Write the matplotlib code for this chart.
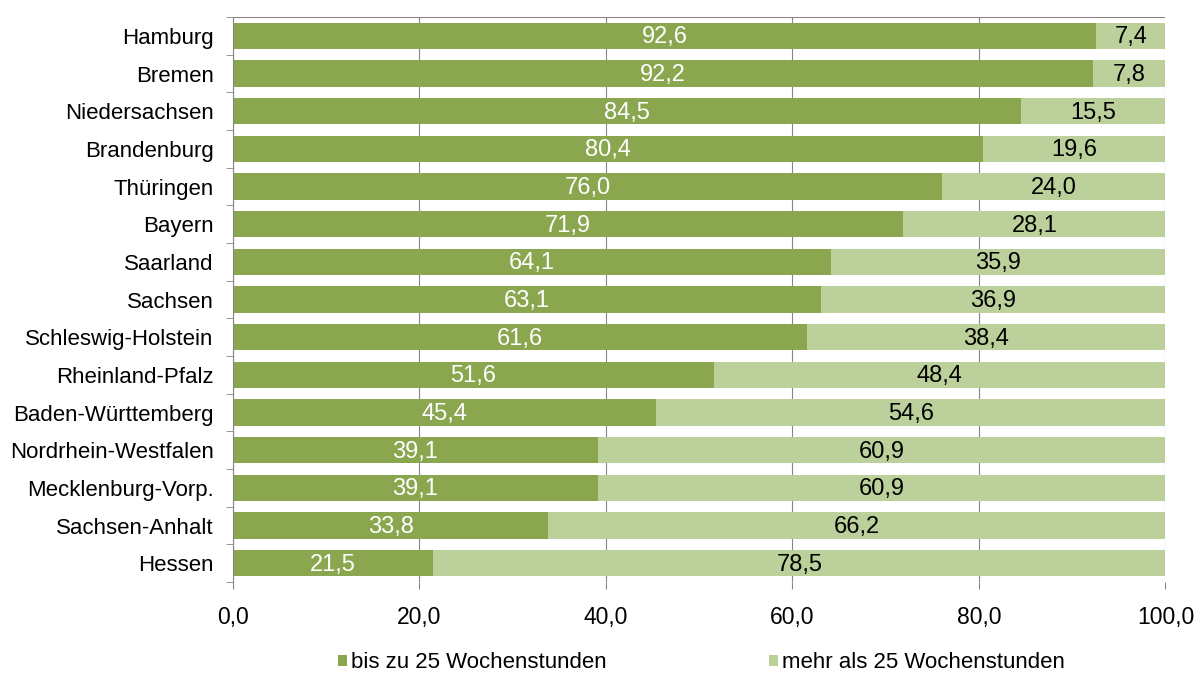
import matplotlib
matplotlib.use("Agg")
import matplotlib.pyplot as plt
from matplotlib.ticker import FixedLocator

plt.rcParams['font.family'] = ['Liberation Sans', 'DejaVu Sans']

states = ["Hamburg", "Bremen", "Niedersachsen", "Brandenburg", "Thüringen", "Bayern",
          "Saarland", "Sachsen", "Schleswig-Holstein", "Rheinland-Pfalz",
          "Baden-Württemberg", "Nordrhein-Westfalen", "Mecklenburg-Vorp.",
          "Sachsen-Anhalt", "Hessen"]
bis25 = [92.6, 92.2, 84.5, 80.4, 76.0, 71.9, 64.1, 63.1, 61.6, 51.6, 45.4, 39.1, 39.1, 33.8, 21.5]
mehr25 = [7.4, 7.8, 15.5, 19.6, 24.0, 28.1, 35.9, 36.9, 38.4, 48.4, 54.6, 60.9, 60.9, 66.2, 78.5]
series_names = ["bis zu 25 Wochenstunden", "mehr als 25 Wochenstunden"]
xticks = [0, 20, 40, 60, 80, 100]

dark = "#8AA64F"
light = "#BBD09A"

fig = plt.figure(figsize=(12.04, 6.73), dpi=100)
ax = fig.add_axes([0.1935, 0.1352, 0.7745, 0.8395])

y = list(range(len(states)))
h = 0.70
b1 = ax.barh(y, bis25, height=h, color=dark, label=series_names[0], zorder=3)
b2 = ax.barh(y, mehr25, left=bis25, height=h, color=light, label=series_names[1], zorder=3)

for i in y:
    ax.text(bis25[i] / 2, i + 0.04, f"{bis25[i]:.1f}".replace(".", ","), ha="center", va="center",
            color="white", fontsize=17, zorder=4)
    ax.text(bis25[i] + mehr25[i] / 2, i + 0.04, f"{mehr25[i]:.1f}".replace(".", ","), ha="center",
            va="center", color="black", fontsize=17, zorder=4)

ax.set_ylim(len(states) - 0.5, -0.5)
ax.set_xlim(0, 100)
ax.set_yticks(y)
ax.set_yticklabels(states, fontsize=16)
ax.yaxis.set_minor_locator(FixedLocator([i - 0.5 for i in range(len(states) + 1)]))
ax.tick_params(axis="y", which="major", length=0, pad=14)
ax.tick_params(axis="y", which="minor", length=5, color="#868686", direction="out")
ax.set_xticks(xticks)
ax.set_xticklabels([f"{v:.1f}".replace(".", ",") for v in xticks], fontsize=16.5)
ax.tick_params(axis="x", length=5, color="#868686", direction="out", pad=12)

ax.grid(axis="x", color="#868686", linewidth=0.8, zorder=0)
ax.axhline(-0.5, color="#868686", linewidth=0.8, zorder=0)
for side in ["top", "right", "bottom"]:
    ax.spines[side].set_visible(False)
ax.spines["left"].set_color("#868686")
ax.spines["left"].set_zorder(5)

for handle, name, x0 in [(b1, series_names[0], 338 / 1204), (b2, series_names[1], 769 / 1204)]:
    fig.legend(handles=[handle], labels=[name], loc="center left",
               bbox_to_anchor=(x0, 0.0149), frameon=False, fontsize=16,
               borderpad=0, borderaxespad=0,
               handlelength=0.42, handleheight=0.42, handletextpad=0.15)

fig.savefig("out.png", dpi=100)
